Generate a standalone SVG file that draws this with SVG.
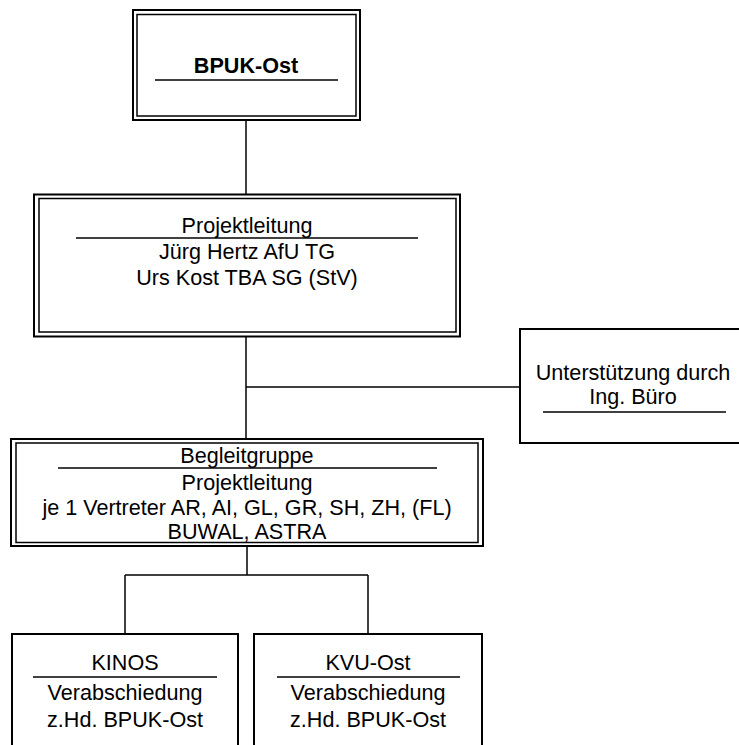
<svg xmlns="http://www.w3.org/2000/svg" width="739" height="745" viewBox="0 0 739 745">
<style>
.box{fill:#fff;stroke:#000;stroke-width:2}
.in{fill:none;stroke:#000;stroke-width:1.5}
.ul{stroke:#000;stroke-width:1.5}
.conn line{stroke:#000;stroke-width:1.5}
text{font-family:"Liberation Sans",Arial,sans-serif;font-size:21.6px;fill:#000;text-anchor:middle}
</style>
<rect width="739" height="745" fill="#fff"/>
<g id="connectors" class="conn">
<line x1="246" y1="120" x2="246" y2="195"/>
<line x1="246" y1="337" x2="246" y2="440"/>
<line x1="246" y1="387" x2="520" y2="387"/>
<line x1="247" y1="546" x2="247" y2="575"/>
<line x1="125" y1="575" x2="368" y2="575"/>
<line x1="125" y1="575" x2="125" y2="634"/>
<line x1="368" y1="575" x2="368" y2="634"/>
</g>
<g id="bpuk">
<rect class="box" x="133" y="10" width="227" height="110"/>
<rect class="in" x="137" y="14.5" width="219" height="101.5"/>
<text x="246" y="73" font-weight="bold">BPUK-Ost</text>
<line class="ul" x1="155" y1="80" x2="338" y2="80"/>
</g>
<g id="projektleitung">
<rect class="box" x="34" y="194.5" width="426" height="142"/>
<rect class="in" x="39" y="198.5" width="417" height="133.5"/>
<text x="247" y="233">Projektleitung</text>
<line class="ul" x1="76" y1="238" x2="418" y2="238"/>
<text x="247" y="259">Jürg Hertz AfU TG</text>
<text x="247" y="285">Urs Kost TBA SG (StV)</text>
</g>
<g id="unterstuetzung">
<rect class="box" x="520" y="329" width="230" height="114"/>
<text x="633" y="380">Unterstützung durch</text>
<text x="633" y="404">Ing. Büro</text>
<line class="ul" x1="543" y1="412" x2="726" y2="412"/>
</g>
<g id="begleitgruppe">
<rect class="box" x="11" y="439" width="472" height="107"/>
<rect class="in" x="16" y="443" width="462" height="99.5"/>
<text x="247" y="463">Begleitgruppe</text>
<line class="ul" x1="58" y1="468" x2="437" y2="468"/>
<text x="247" y="490">Projektleitung</text>
<text x="247" y="515">je 1 Vertreter AR, AI, GL, GR, SH, ZH, (FL)</text>
<text x="247" y="539">BUWAL, ASTRA</text>
</g>
<g id="kinos">
<rect class="box" x="12" y="634" width="226" height="130"/>
<text x="125" y="670">KINOS</text>
<line class="ul" x1="33" y1="677" x2="217" y2="677"/>
<text x="125" y="700">Verabschiedung</text>
<text x="125" y="727">z.Hd. BPUK-Ost</text>
</g>
<g id="kvu">
<rect class="box" x="254" y="634" width="228" height="130"/>
<text x="368" y="670">KVU-Ost</text>
<line class="ul" x1="277" y1="677" x2="460" y2="677"/>
<text x="368" y="700">Verabschiedung</text>
<text x="368" y="727">z.Hd. BPUK-Ost</text>
</g>
</svg>
